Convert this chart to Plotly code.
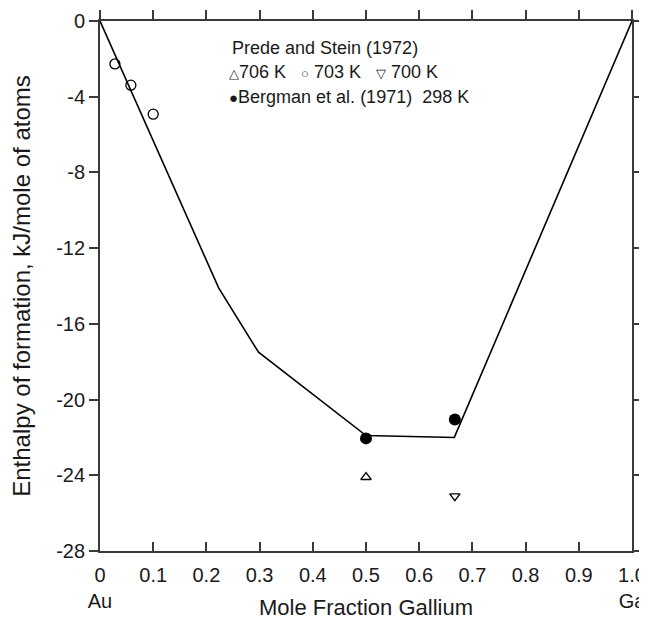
import plotly.graph_objects as go

# Data
line_x = [0.0, 0.223, 0.298, 0.5, 0.666, 1.0]
line_y = [0.0, -14.1, -17.5, -21.9, -22.0, 0.0]

prede703_x = [0.028, 0.058, 0.10]
prede703_y = [-2.27, -3.39, -4.92]
prede706_x = [0.5]
prede706_y = [-24.1]
prede700_x = [0.667]
prede700_y = [-25.1]
bergman_x = [0.5, 0.667]
bergman_y = [-22.05, -21.05]

x_tickvals = [0, 0.1, 0.2, 0.3, 0.4, 0.5, 0.6, 0.7, 0.8, 0.9, 1.0]
x_ticktext = ["0<br>Au", "0.1", "0.2", "0.3", "0.4", "0.5", "0.6", "0.7", "0.8", "0.9", "1.0<br>Ga"]
y_tickvals = [0, -4, -8, -12, -16, -20, -24, -28]
y_ticktext = ["0", "-4", "-8", "-12", "-16", "-20", "-24", "-28"]

FONT = "Liberation Sans, Arial, sans-serif"
AX = "#3a3a3a"
TXT = "#1a1a1a"

fig = go.Figure()
fig.add_trace(go.Scatter(x=line_x, y=line_y, mode="lines",
                         line=dict(color="black", width=1.6), showlegend=False))
fig.add_trace(go.Scatter(x=prede703_x, y=prede703_y, mode="markers",
                         marker=dict(symbol="circle-open", size=10, color="black",
                                     line=dict(width=1.3)), showlegend=False))
fig.add_trace(go.Scatter(x=prede706_x, y=prede706_y, mode="markers",
                         marker=dict(symbol="triangle-up-open", size=9, color="black",
                                     line=dict(width=1.4)), showlegend=False))
fig.add_trace(go.Scatter(x=prede700_x, y=prede700_y, mode="markers",
                         marker=dict(symbol="triangle-down-open", size=9, color="black",
                                     line=dict(width=1.4)), showlegend=False))
fig.add_trace(go.Scatter(x=bergman_x, y=bergman_y, mode="markers",
                         marker=dict(symbol="circle", size=12, color="black"),
                         showlegend=False))
# invisible trace for mirrored top/right axes
fig.add_trace(go.Scatter(x=[0, 1], y=[0, -28], xaxis="x2", yaxis="y2", mode="markers",
                         marker=dict(opacity=0), hoverinfo="skip", showlegend=False))

fig.update_layout(
    width=639, height=612,
    margin=dict(l=92, r=15, t=13, b=69),
    paper_bgcolor="white", plot_bgcolor="white",
    font=dict(family=FONT, size=20, color=TXT),
    xaxis=dict(range=[0, 1], tickvals=x_tickvals, ticktext=x_ticktext,
               ticks="inside", ticklen=9, tickwidth=1.5, tickcolor=AX,
               showline=True, linecolor=AX, linewidth=1.8, showgrid=False, zeroline=False,
               automargin=False, ticklabelstandoff=5, ticklabeloverflow="allow",
               title=dict(text="Mole Fraction Gallium", standoff=0, font=dict(size=22)),
               tickfont=dict(size=20)),
    xaxis2=dict(range=[0, 1], overlaying="x", side="top", tickvals=x_tickvals,
                showticklabels=False, ticks="outside", ticklen=9, tickwidth=1.5,
                tickcolor=AX, showline=True, linecolor=AX, linewidth=1.8,
                showgrid=False, zeroline=False, automargin=False),
    yaxis=dict(range=[-28, 0], tickvals=y_tickvals, ticktext=y_ticktext,
               ticks="outside", ticklen=9, tickwidth=1.5, tickcolor=AX,
               showline=True, linecolor=AX, linewidth=1.8, showgrid=False, zeroline=False,
               automargin=False,
               title=dict(text="Enthalpy of formation, kJ/mole of atoms", standoff=20,
                          font=dict(size=24)),
               tickfont=dict(size=20)),
    yaxis2=dict(range=[-28, 0], overlaying="y", side="right", tickvals=y_tickvals,
                showticklabels=False, ticks="outside", ticklen=9, tickwidth=1.5,
                tickcolor=AX, showline=True, linecolor=AX, linewidth=1.8,
                showgrid=False, zeroline=False, automargin=False),
)

ann_font = dict(family=FONT, size=18, color=TXT)
fig.add_annotation(x=0.244, y=0.949, xref="paper", yref="paper", xanchor="left",
                   yanchor="middle", showarrow=False, font=ann_font,
                   text="Prede and Stein (1972)")
fig.add_annotation(x=0.238, y=0.904, xref="paper", yref="paper", xanchor="left",
                   yanchor="middle", showarrow=False, font=ann_font,
                   text="<span style='font-size:13px'>△</span>706 K&nbsp;&nbsp;&nbsp;<span style='font-size:13px'>○</span>&nbsp;703 K&nbsp;&nbsp;&nbsp;<span style='font-size:13px'>▽</span>&nbsp;700 K")
fig.add_annotation(x=0.238, y=0.857, xref="paper", yref="paper", xanchor="left",
                   yanchor="middle", showarrow=False, font=ann_font,
                   text="<span style='font-size:15px'>●</span>Bergman et al. (1971)&nbsp;&nbsp;298 K")

fig.write_html("out.html")
